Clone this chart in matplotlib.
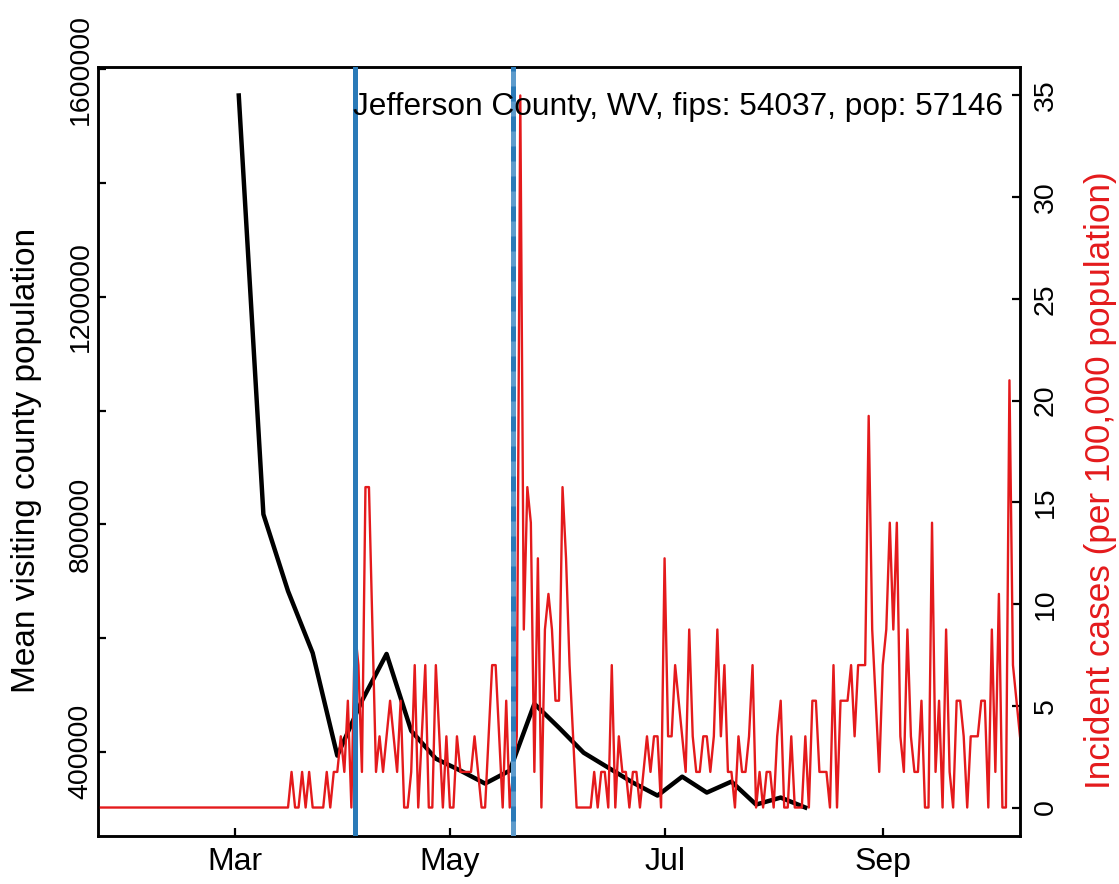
import matplotlib
matplotlib.use("Agg")
import matplotlib.pyplot as plt
import matplotlib.dates as mdates
import numpy as np
import pandas as pd

plt.rcParams['font.family'] = ['Liberation Sans', 'DejaVu Sans']

pop = 57146
title = "Jefferson County, WV, fips: 54037, pop: 57146"

# weekly mean visiting county population
visit_start = "2020-03-02"
visit_pop = [1554000, 817500, 682400, 573600, 393000, 489500, 571900, 436800,
             387700, 366700, 343900, 366700, 484200, 442100, 398200, 371900,
             345600, 322800, 356100, 328100, 347400, 307000, 319300, 301800]

# daily new cases, 2020-01-22 .. 2020-10-10
case_start = "2020-01-22"
new_cases = [0] * 55 + [
    1, 0, 0, 1, 0, 1, 0, 0, 0, 0, 1, 0, 1, 1, 2, 1, 3, 0, 5, 4,     # Mar 17 -
    1, 9, 9, 5, 1, 2, 1, 2, 3, 2, 1, 3, 0, 0, 1, 4, 0, 2, 4, 0,     # Apr 6 -
    0, 4, 2, 0, 2, 0, 0, 2, 1, 1, 1, 1, 2, 1, 0, 0, 2, 4, 4, 2,     # Apr 26 -
    0, 3, 0, 1, 2, 20, 5, 9, 8, 1, 7, 0, 5, 6, 5, 3, 3, 9, 7, 4,    # May 16 -
    2, 0, 0, 0, 0, 0, 1, 0, 1, 1, 0, 4, 0, 2, 1, 1, 0, 1, 1, 0,     # Jun 5 -
    1, 2, 1, 2, 2, 0, 7, 2, 2, 4, 3, 2, 1, 5, 2, 1, 1, 2, 2, 1,     # Jun 25 -
    2, 5, 2, 4, 1, 1, 0, 2, 1, 1, 2, 4, 0, 1, 0, 1, 1, 0, 2, 3,     # Jul 15 -
    0, 0, 2, 0, 0, 0, 2, 0, 3, 3, 1, 1, 1, 0, 4, 0, 3, 3, 3, 4,     # Aug 4 -
    2, 4, 4, 4, 11, 5, 3, 1, 4, 5, 8, 5, 8, 2, 1, 5, 2, 1, 1, 3,    # Aug 24 -
    0, 0, 8, 1, 3, 0, 5, 1, 0, 3, 3, 2, 0, 2, 2, 2, 3, 3, 0, 5,     # Sep 13 -
    1, 6, 0, 0, 12, 4, 3, 2]                                       # Oct 3 -

# policy dates (vertical lines)
event_dates = ["2020-04-04", "2020-05-19"]

visit_dates = pd.date_range(visit_start, periods=len(visit_pop), freq="7D")
case_dates = pd.date_range(case_start, periods=len(new_cases), freq="D")
incidence = np.array(new_cases) * 100000 / pop

fig = plt.figure(figsize=(11.19, 8.84), dpi=100)
ax = fig.add_axes([98 / 1119, 1 - 836 / 884, 922 / 1119, 769 / 884])

ax.plot(visit_dates, visit_pop, color="black", lw=3.2)
lo, hi = min(visit_pop), max(visit_pop)
pad = 0.04 * (hi - lo)
ax.set_ylim(lo - pad, hi + pad)
ax.set_xlim(case_dates[0], case_dates[-1])
ax.set_yticks(np.arange(400000, 1600001, 200000))
ax.set_yticklabels(["400000", "", "800000", "", "1200000", "", "1600000"],
                   rotation=90, va="center")
ax.set_ylabel("Mean visiting county population", fontsize=24)
ax.yaxis.set_label_coords(-0.061, 0.489)

ax.xaxis.set_major_locator(mdates.MonthLocator(bymonth=[3, 5, 7, 9]))
ax.xaxis.set_major_formatter(mdates.DateFormatter("%b"))

ax2 = ax.twinx()
ax2.plot(case_dates, incidence, color="#e41a1c", lw=1.7)
ipad = 0.04 * incidence.max()
ax2.set_ylim(-ipad, incidence.max() + ipad)
ax2.set_yticks(np.arange(0, 36, 5))
ax2.set_yticklabels([str(v) for v in range(0, 36, 5)], rotation=90, va="center")
ax2.set_ylabel("Incident cases (per 100,000 population)", color="#e41a1c",
               fontsize=25.3)
ax2.yaxis.set_label_coords(1.0695, 0.463)

for d in event_dates:
    ax2.axvline(pd.Timestamp(d), color="#2a7ab8", lw=3.6, zorder=5)
ax2.axvline(pd.Timestamp(event_dates[1]), color="#5d9bcc", lw=3.6,
            ls=(0, (3, 3)), zorder=6)

ax2.text(0.9816, 0.948, title, transform=ax2.transAxes, ha="right",
         va="center", fontsize=22.8, zorder=7)

for a in (ax, ax2):
    a.tick_params(length=6, width=1.6, direction="in")
    for s in a.spines.values():
        s.set_linewidth(1.8)
ax.tick_params(axis="y", labelsize=20.5, pad=3)
ax2.tick_params(axis="y", labelsize=20.5, pad=9)
ax.tick_params(axis="x", labelsize=23, pad=8)

fig.savefig("out.png", dpi=100)
